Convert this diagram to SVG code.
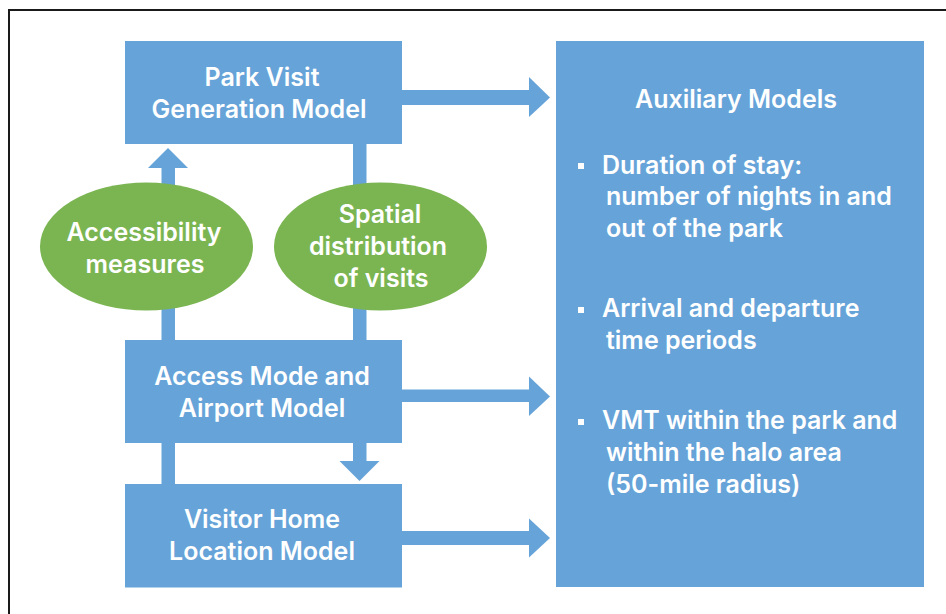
<svg xmlns="http://www.w3.org/2000/svg" width="946" height="614" viewBox="0 0 946 614">
  <style>
    .box { fill: #66a3d8; }
    .oval { fill: #7bb552; }
    .flow { fill: #66a3d8; }
    text { font-family: Inter, Roboto, "Liberation Sans", sans-serif; font-weight: 600; font-size: 25px; fill: #ffffff; }
    .c { text-anchor: middle; }
    .bullet { fill: #ffffff; }
  </style>
  <rect width="946" height="614" fill="#ffffff"/>
  <!-- frame -->
  <path d="M9 614 V10 H946" fill="none" stroke="#1a1a1a" stroke-width="2"/>

  <!-- connectors -->
  <g id="connectors" class="flow">
    <!-- up arrow: Access Mode -> Park Visit -->
    <rect x="161.5" y="167" width="13.5" height="174"/>
    <polygon points="148,168 188,168 168,148"/>
    <!-- Park Visit -> Access Mode (through spatial distribution) -->
    <rect x="353" y="143" width="13.5" height="199"/>
    <!-- down arrow: Access Mode -> Visitor Home -->
    <rect x="353" y="442" width="13.5" height="20"/>
    <polygon points="339.5,461 379.5,461 359.5,481"/>
    <!-- Access Mode <-> Visitor Home link -->
    <rect x="161.5" y="442" width="13.5" height="43"/>
    <!-- right arrows to auxiliary models -->
    <rect x="400" y="90" width="130" height="15"/>
    <polygon points="529,77 550,97.5 529,117"/>
    <rect x="400" y="389.5" width="130" height="12.5"/>
    <polygon points="529,376.5 550,396.5 529,416"/>
    <rect x="400" y="531" width="130" height="14"/>
    <polygon points="529,518.5 550,538 529,557.5"/>
  </g>

  <g id="park-visit">
    <rect class="box" x="125" y="41" width="277" height="103"/>
    <text class="c" x="262" y="86">Park Visit</text>
    <text class="c" x="259" y="118">Generation Model</text>
  </g>

  <g id="accessibility">
    <ellipse class="oval" cx="146.5" cy="246.5" rx="106.5" ry="64"/>
    <text class="c" x="144" y="241">Accessibility</text>
    <text class="c" x="145" y="273">measures</text>
  </g>

  <g id="spatial-distribution">
    <ellipse class="oval" cx="380.5" cy="246.5" rx="106.5" ry="64"/>
    <text class="c" x="380" y="223">Spatial</text>
    <text class="c" x="378" y="255">distribution</text>
    <text class="c" x="381" y="287">of visits</text>
  </g>

  <g id="access-mode">
    <rect class="box" x="125" y="340" width="277" height="103"/>
    <text class="c" x="262" y="385">Access Mode and</text>
    <text class="c" x="262" y="417">Airport Model</text>
  </g>

  <g id="visitor-home">
    <rect class="box" x="125" y="484" width="277" height="103.5"/>
    <text class="c" x="262" y="528">Visitor Home</text>
    <text class="c" x="262" y="560">Location Model</text>
  </g>

  <g id="auxiliary-models">
    <rect class="box" x="556" y="41" width="368" height="546"/>
    <text class="c" x="736" y="108">Auxiliary Models</text>
    <rect class="bullet" x="578" y="163" width="6" height="6"/>
    <text x="602" y="174">Duration of stay:</text>
    <text x="606" y="205">number of nights in and</text>
    <text x="606" y="237">out of the park</text>
    <rect class="bullet" x="578" y="307" width="6" height="6"/>
    <text x="602" y="317">Arrival and departure</text>
    <text x="606" y="349">time periods</text>
    <rect class="bullet" x="578" y="419" width="6" height="6"/>
    <text x="602" y="429">VMT within the park and</text>
    <text x="606" y="461">within the halo area</text>
    <text x="606" y="493">(50-mile radius)</text>
  </g>
</svg>
